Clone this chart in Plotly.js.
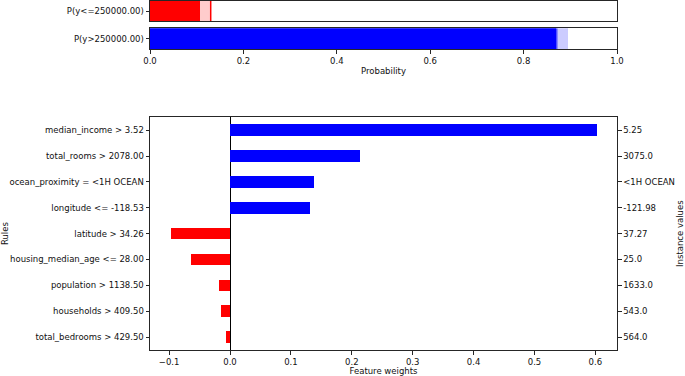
<!DOCTYPE html>
<html><head><meta charset="utf-8">
<script src="https://cdn.plot.ly/plotly-3.0.1.min.js"></script>
<style>body{margin:0;padding:0;background:#fff}#chart{width:685px;height:376px}</style>
</head><body><div id="chart"></div>
<script>
// Top panel: class probabilities
const probLabels = ["P(y<=250000.00)", "P(y>250000.00)"];
const probLower = [0.107, 0.869];
const probUpper = [0.130, 0.896];
const probPoint = [0.130, 0.871];

// Bottom panel: rules and feature weights
const rules = ["median_income > 3.52", "total_rooms > 2078.00", "ocean_proximity = <1H OCEAN",
  "longitude <= -118.53", "latitude > 34.26", "housing_median_age <= 28.00",
  "population > 1138.50", "households > 409.50", "total_bedrooms > 429.50"];
const weights = [0.602, 0.214, 0.138, 0.132, -0.097, -0.064, -0.018, -0.015, -0.006];
const instanceValues = ["5.25", "3075.0", "<1H OCEAN", "-121.98", "37.27", "25.0", "1633.0", "543.0", "564.0"];
const weightTicks = [-0.1, 0.0, 0.1, 0.2, 0.3, 0.4, 0.5, 0.6];
const probTicks = [0.0, 0.2, 0.4, 0.6, 0.8, 1.0];

const solidColors = ["#ff0000", "#0000ff"];
const lightColors = ["#ffcccc", "#ccccff"];
const lineColors = ["#ff0000", "#5050ff"];

const traces = [];
const axPairs = [["x", "y"], ["x2", "y2"]];
for (let i = 0; i < probLabels.length; i++) {
  traces.push({type: "bar", orientation: "h", x: [probUpper[i]], y: [0], width: 1,
    marker: {color: lightColors[i], line: {width: 0}}, xaxis: axPairs[i][0], yaxis: axPairs[i][1], hoverinfo: "none"});
  traces.push({type: "bar", orientation: "h", x: [probLower[i]], y: [0], width: 1,
    marker: {color: solidColors[i], line: {width: 0}}, xaxis: axPairs[i][0], yaxis: axPairs[i][1], hoverinfo: "none"});
  traces.push({type: "scatter", mode: "lines", x: [probPoint[i], probPoint[i]], y: [-0.5, 0.5],
    line: {color: lineColors[i], width: 1.5}, xaxis: axPairs[i][0], yaxis: axPairs[i][1], hoverinfo: "none"});
}
const pos = rules.map((_, i) => i);
traces.push({type: "bar", orientation: "h", x: weights, y: pos, width: 0.45,
  marker: {color: weights.map(w => w >= 0 ? "#0000ff" : "#ff0000"), line: {width: 0}},
  xaxis: "x3", yaxis: "y3", hoverinfo: "none"});
traces.push({type: "scatter", mode: "markers", x: pos.map(() => 0), y: pos,
  marker: {opacity: 0}, xaxis: "x3", yaxis: "y4", hoverinfo: "none"});

const font = {family: "DejaVu Sans", size: 8.5, color: "#111"};
const frame = {showline: true, mirror: true, linecolor: "#262626", linewidth: 1, showgrid: false, zeroline: false};

const layout = {
  width: 685, height: 376, showlegend: false, barmode: "overlay", bargap: 0,
  paper_bgcolor: "#fff", plot_bgcolor: "#fff", font: font,
  margin: {l: 150, r: 68, t: 0, b: 26},
  xaxis: Object.assign({}, frame, {range: [0, 1], anchor: "y", showticklabels: false, ticks: "", fixedrange: true}),
  yaxis: Object.assign({}, frame, {domain: [0.939, 0.997], range: [-0.5, 0.5], anchor: "x",
    tickvals: [0], ticktext: [probLabels[0]], ticks: "outside", ticklen: 3.5, tickcolor: "#262626"}),
  xaxis2: Object.assign({}, frame, {range: [0, 1], anchor: "y2", tickvals: probTicks,
    ticktext: probTicks.map(v => v.toFixed(1)), ticks: "outside", ticklen: 3.5, tickcolor: "#262626",
    title: {text: "Probability", font: font, standoff: 3}}),
  yaxis2: Object.assign({}, frame, {domain: [0.859, 0.919], range: [-0.5, 0.5], anchor: "x2",
    tickvals: [0], ticktext: [probLabels[1]], ticks: "outside", ticklen: 3.5, tickcolor: "#262626"}),
  xaxis3: Object.assign({}, frame, {range: [-0.1314, 0.6355], anchor: "y3", tickvals: weightTicks,
    ticktext: weightTicks.map(v => (v < 0 ? "\u2212" + Math.abs(v).toFixed(1) : v.toFixed(1))),
    ticks: "outside", ticklen: 3.5, tickcolor: "#262626", zeroline: true, zerolinecolor: "#000", zerolinewidth: 1,
    title: {text: "Feature weights", font: font, standoff: 2}}),
  yaxis3: Object.assign({}, frame, {domain: [0, 0.665], range: [8.5, -0.5], anchor: "x3",
    tickvals: pos, ticktext: rules, ticks: "outside", ticklen: 3.5, tickcolor: "#262626",
    title: {text: "Rules", font: font, standoff: 2}}),
  yaxis4: {overlaying: "y3", side: "right", anchor: "x3", range: [8.5, -0.5], showgrid: false, zeroline: false,
    showline: false, tickvals: pos, ticktext: instanceValues, ticks: "outside", ticklen: 3.5, tickcolor: "#262626",
    title: {text: "Instance values", font: font, standoff: 8}}
};

Plotly.newPlot("chart", traces, layout, {staticPlot: true});
</script></body></html>
